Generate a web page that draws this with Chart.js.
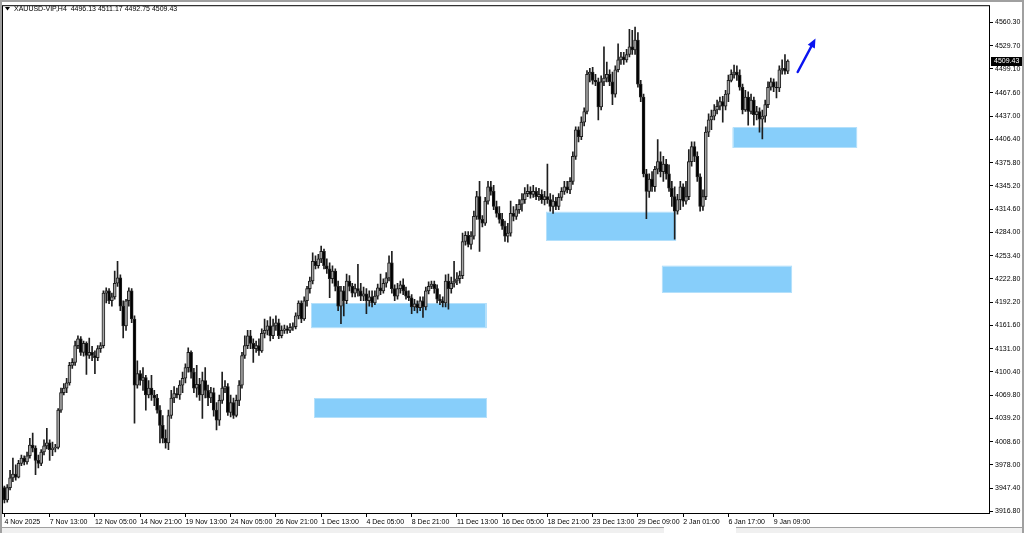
<!DOCTYPE html>
<html>
<head>
<meta charset="utf-8">
<title>XAUUSD H4</title>
<script src="https://cdn.jsdelivr.net/npm/chart.js@4.4.1/dist/chart.umd.min.js"></script>
<style>
  html, body { margin: 0; padding: 0; background: #fff; }
  #wrap { width: 1024px; height: 533px; }
</style>
</head>
<body>
<div id="wrap"><canvas id="xau" width="1024" height="533"></canvas></div>
<script>
// ================================================================ data (H4 candles)

const xTickLabels = ["4 Nov 2025", "7 Nov 13:00", "12 Nov 05:00", "14 Nov 21:00", "19 Nov 13:00",
  "24 Nov 05:00", "26 Nov 21:00", "1 Dec 13:00", "4 Dec 05:00", "8 Dec 21:00", "11 Dec 13:00",
  "16 Dec 05:00", "18 Dec 21:00", "23 Dec 13:00", "29 Dec 09:00", "2 Jan 01:00", "6 Jan 17:00", "9 Jan 09:00"];

const yTickLabels = ["4560.30", "4529.70", "4499.10", "4467.60", "4437.00", "4406.40", "4375.80",
  "4345.20", "4314.60", "4284.00", "4253.40", "4222.80", "4192.20", "4161.60", "4131.00", "4100.40",
  "4069.80", "4039.20", "4008.60", "3978.00", "3947.40", "3916.80"];

const opens = [
  3948, 3932, 3948, 3961, 3966, 3962, 3980, 3987, 3982, 3990, 4004, 4000, 3984, 3980, 3995, 4003, 4007, 3998, 4000, 4001,
  4050, 4073, 4079, 4086, 4109, 4113, 4135, 4144, 4126, 4138, 4122, 4126, 4122, 4119, 4131, 4135, 4204, 4207, 4194, 4199,
  4217, 4224, 4187, 4161, 4194, 4207, 4170, 4083, 4098, 4089, 4093, 4070, 4079, 4070, 4066, 4050, 4030, 4013, 4007, 4043,
  4066, 4072, 4070, 4083, 4092, 4106, 4126, 4100, 4079, 4084, 4070, 4089, 4076, 4066, 4073, 4050, 4037, 4063, 4079, 4081,
  4047, 4060, 4043, 4063, 4083, 4122, 4135, 4148, 4138, 4131, 4135, 4128, 4151, 4155, 4161, 4148, 4161, 4165, 4148, 4155,
  4157, 4155, 4159, 4160, 4174, 4191, 4170, 4194, 4210, 4220, 4246, 4240, 4249, 4259, 4240, 4236, 4223, 4233, 4213, 4187,
  4207, 4194, 4220, 4213, 4204, 4210, 4207, 4200, 4203, 4194, 4199, 4191, 4200, 4211, 4207, 4217, 4224, 4244, 4210, 4200,
  4210, 4215, 4207, 4200, 4198, 4186, 4190, 4185, 4194, 4186, 4207, 4213, 4216, 4210, 4196, 4194, 4191, 4220, 4210, 4217,
  4220, 4223, 4227, 4272, 4280, 4268, 4279, 4305, 4331, 4301, 4296, 4325, 4344, 4338, 4318, 4309, 4301, 4292, 4279, 4283,
  4309, 4305, 4314, 4321, 4327, 4335, 4338, 4334, 4338, 4331, 4334, 4327, 4331, 4327, 4318, 4325, 4318, 4330, 4338, 4344,
  4340, 4351, 4384, 4419, 4410, 4429, 4443, 4492, 4495, 4484, 4482, 4449, 4482, 4487, 4492, 4482, 4466, 4498, 4511, 4515,
  4511, 4518, 4528, 4524, 4537, 4479, 4462, 4361, 4338, 4354, 4344, 4367, 4377, 4364, 4374, 4361, 4342, 4331, 4312, 4327,
  4344, 4325, 4331, 4377, 4397, 4384, 4357, 4318, 4331, 4416, 4432, 4437, 4445, 4450, 4456, 4450, 4466, 4484, 4492, 4495,
  4491, 4475, 4445, 4462, 4443, 4458, 4439, 4443, 4433, 4437, 4452, 4475, 4482, 4475, 4474, 4498, 4500, 4496.13
];

const highs = [
  3950, 3952, 3971, 3987, 3978, 3984, 3991, 3990, 3995, 4013, 4020, 4003, 3991, 3998, 4011, 4026, 4011, 4008, 4005, 4052,
  4079, 4085, 4092, 4113, 4118, 4141, 4148, 4147, 4141, 4140, 4145, 4134, 4128, 4135, 4139, 4207, 4211, 4210, 4204, 4233,
  4246, 4228, 4194, 4196, 4211, 4210, 4174, 4115, 4102, 4106, 4096, 4089, 4096, 4076, 4071, 4056, 4043, 4024, 4050, 4076,
  4081, 4079, 4089, 4100, 4111, 4132, 4128, 4105, 4109, 4092, 4100, 4106, 4083, 4080, 4079, 4060, 4070, 4100, 4089, 4085,
  4070, 4066, 4070, 4089, 4126, 4148, 4155, 4155, 4144, 4141, 4144, 4157, 4170, 4168, 4173, 4170, 4174, 4170, 4161, 4162,
  4161, 4164, 4165, 4178, 4194, 4194, 4199, 4213, 4225, 4257, 4253, 4255, 4266, 4262, 4249, 4244, 4240, 4236, 4220, 4213,
  4213, 4229, 4227, 4217, 4216, 4242, 4217, 4212, 4210, 4207, 4207, 4207, 4216, 4229, 4223, 4231, 4253, 4259, 4215, 4217,
  4220, 4223, 4212, 4207, 4202, 4196, 4194, 4199, 4199, 4212, 4219, 4220, 4220, 4215, 4202, 4199, 4228, 4229, 4225, 4246,
  4231, 4233, 4283, 4285, 4285, 4285, 4312, 4338, 4351, 4306, 4330, 4351, 4351, 4346, 4325, 4318, 4309, 4299, 4296, 4325,
  4318, 4321, 4327, 4335, 4343, 4347, 4344, 4346, 4343, 4342, 4340, 4338, 4374, 4335, 4333, 4330, 4335, 4343, 4351, 4351,
  4356, 4390, 4423, 4423, 4436, 4448, 4497, 4500, 4501, 4492, 4487, 4490, 4528, 4508, 4498, 4495, 4503, 4532, 4521, 4521,
  4525, 4551, 4550, 4554, 4547, 4484, 4466, 4367, 4361, 4364, 4371, 4406, 4390, 4384, 4380, 4373, 4351, 4344, 4334, 4351,
  4348, 4351, 4393, 4403, 4403, 4390, 4361, 4340, 4423, 4440, 4445, 4452, 4458, 4462, 4463, 4471, 4491, 4498, 4504, 4503,
  4498, 4479, 4471, 4469, 4466, 4462, 4450, 4448, 4445, 4458, 4482, 4487, 4486, 4482, 4503, 4511, 4518, 4511.17
];

const lows = [
  3928, 3929, 3945, 3956, 3958, 3961, 3977, 3978, 3979, 3987, 3995, 3965, 3974, 3977, 3991, 3999, 3984, 3990, 3995, 3999,
  4047, 4070, 4073, 4083, 4105, 4109, 4131, 4122, 4121, 4097, 4118, 4115, 4098, 4115, 4126, 4132, 4191, 4190, 4187, 4196,
  4213, 4181, 4145, 4155, 4187, 4165, 4033, 4079, 4083, 4076, 4050, 4066, 4063, 4056, 4046, 4007, 4007, 4000, 3998, 4039,
  4060, 4066, 4064, 4073, 4086, 4100, 4092, 4073, 4067, 4063, 4039, 4066, 4056, 4060, 4042, 4024, 4030, 4059, 4073, 4043,
  4041, 4039, 4041, 4056, 4079, 4118, 4131, 4131, 4113, 4126, 4122, 4126, 4145, 4149, 4141, 4144, 4155, 4144, 4145, 4151,
  4151, 4152, 4155, 4157, 4170, 4165, 4168, 4187, 4204, 4216, 4236, 4237, 4244, 4236, 4230, 4198, 4217, 4207, 4181, 4164,
  4174, 4190, 4207, 4199, 4199, 4200, 4194, 4194, 4177, 4187, 4186, 4189, 4196, 4202, 4204, 4212, 4220, 4204, 4194, 4196,
  4204, 4202, 4196, 4194, 4177, 4181, 4178, 4181, 4172, 4182, 4203, 4210, 4204, 4191, 4189, 4186, 4186, 4183, 4204, 4212,
  4215, 4217, 4223, 4267, 4265, 4262, 4275, 4301, 4259, 4291, 4293, 4321, 4333, 4314, 4304, 4296, 4288, 4272, 4271, 4279,
  4299, 4301, 4309, 4312, 4322, 4331, 4329, 4330, 4327, 4326, 4322, 4320, 4322, 4312, 4309, 4314, 4314, 4326, 4334, 4336,
  4335, 4347, 4380, 4403, 4406, 4424, 4440, 4482, 4479, 4477, 4432, 4445, 4477, 4482, 4477, 4452, 4462, 4495, 4505, 4505,
  4508, 4515, 4518, 4518, 4475, 4456, 4357, 4302, 4330, 4338, 4338, 4361, 4357, 4351, 4354, 4338, 4318, 4275, 4308, 4314,
  4318, 4321, 4327, 4371, 4377, 4351, 4312, 4313, 4327, 4410, 4419, 4432, 4440, 4445, 4429, 4445, 4456, 4482, 4487, 4484,
  4471, 4440, 4443, 4425, 4440, 4425, 4432, 4416, 4407, 4429, 4448, 4471, 4469, 4461, 4469, 4492, 4492, 4492.75
];

const closes = [
  3932, 3948, 3961, 3966, 3962, 3980, 3987, 3982, 3990, 4004, 4000, 3984, 3980, 3995, 4003, 4007, 3998, 4000, 4001, 4050,
  4073, 4079, 4086, 4109, 4113, 4135, 4144, 4126, 4138, 4122, 4126, 4122, 4119, 4131, 4135, 4204, 4207, 4194, 4199, 4217,
  4224, 4187, 4161, 4194, 4207, 4170, 4083, 4098, 4089, 4093, 4070, 4079, 4070, 4066, 4050, 4030, 4013, 4007, 4043, 4066,
  4072, 4070, 4083, 4092, 4106, 4126, 4100, 4079, 4084, 4070, 4089, 4076, 4066, 4073, 4050, 4037, 4063, 4079, 4081, 4047,
  4060, 4043, 4063, 4083, 4122, 4135, 4148, 4138, 4131, 4135, 4128, 4151, 4155, 4161, 4148, 4161, 4165, 4148, 4155, 4157,
  4155, 4159, 4160, 4174, 4191, 4170, 4194, 4210, 4220, 4246, 4240, 4249, 4259, 4240, 4236, 4223, 4233, 4213, 4187, 4207,
  4194, 4220, 4213, 4204, 4210, 4207, 4200, 4203, 4194, 4199, 4191, 4200, 4211, 4207, 4217, 4224, 4244, 4210, 4200, 4210,
  4215, 4207, 4200, 4198, 4186, 4190, 4185, 4194, 4186, 4207, 4213, 4216, 4210, 4196, 4194, 4191, 4220, 4210, 4217, 4220,
  4223, 4227, 4272, 4280, 4268, 4279, 4305, 4331, 4301, 4296, 4325, 4344, 4338, 4318, 4309, 4301, 4292, 4279, 4283, 4309,
  4305, 4314, 4321, 4327, 4335, 4338, 4334, 4338, 4331, 4334, 4327, 4331, 4327, 4318, 4325, 4318, 4330, 4338, 4344, 4340,
  4351, 4384, 4419, 4410, 4429, 4443, 4492, 4495, 4484, 4482, 4449, 4482, 4487, 4492, 4482, 4466, 4498, 4511, 4515, 4511,
  4518, 4528, 4524, 4537, 4479, 4462, 4361, 4338, 4354, 4344, 4367, 4377, 4364, 4374, 4361, 4342, 4331, 4312, 4327, 4344,
  4325, 4331, 4377, 4397, 4384, 4357, 4318, 4331, 4416, 4432, 4437, 4445, 4450, 4456, 4450, 4466, 4484, 4492, 4495, 4491,
  4475, 4445, 4462, 4443, 4458, 4439, 4443, 4433, 4437, 4452, 4475, 4482, 4475, 4474, 4498, 4500, 4496, 4509.43
];

// blue zones drawn on the chart (bar index range, price range)
const zoneFromBar = [109, 110, 192, 233, 258];
const zoneToBar = [171, 171, 238, 279, 302];
const zoneTop = [4191, 4066, 4311, 4240, 4422];
const zoneBottom = [4158, 4040, 4273, 4205, 4395];

// the blue arrow (bar index, price)
const arrowBars = [280.5, 286.8];
const arrowPrices = [4495, 4539];

const slots = 349;          // bars that fit in the window (chart shift leaves room on the right)
const yMin = 3914.7;
const yMax = 4581.6;
const mtFont = "'Liberation Sans', Arial, sans-serif";

// ============================================================= plugins

// zones sit behind the candles
const zonesPlugin = {
  id: "zones",
  beforeDatasetsDraw(chart) {
    const { ctx, scales: { x, y } } = chart;
    ctx.save();
    zoneFromBar.forEach((from, i) => {
      const x1 = x.getPixelForValue(from - 0.5);
      const x2 = x.getPixelForValue(zoneToBar[i] - 0.5);
      const y1 = y.getPixelForValue(zoneTop[i]);
      const y2 = y.getPixelForValue(zoneBottom[i]);
      ctx.fillStyle = "#87cefa";
      ctx.fillRect(x1, y1, x2 - x1, y2 - y1);
      ctx.strokeStyle = "#b4e0fb";
      ctx.lineWidth = 1;
      ctx.strokeRect(Math.round(x1) + 0.5, Math.round(y1) + 0.5, Math.round(x2 - x1) - 1, Math.round(y2 - y1) - 1);
    });
    ctx.restore();
  }
};

const arrowPlugin = {
  id: "arrow",
  afterDatasetsDraw(chart) {
    const { ctx, scales: { x, y } } = chart;
    const x1 = x.getPixelForValue(arrowBars[0]), y1 = y.getPixelForValue(arrowPrices[0]);
    const x2 = x.getPixelForValue(arrowBars[1]), y2 = y.getPixelForValue(arrowPrices[1]);
    const ang = Math.atan2(y2 - y1, x2 - x1);
    const headLen = 9, headW = 4;
    const bx = x2 - headLen * Math.cos(ang), by = y2 - headLen * Math.sin(ang);
    ctx.save();
    ctx.strokeStyle = "#0a14f0";
    ctx.fillStyle = "#0a14f0";
    ctx.lineWidth = 2.5;
    ctx.lineCap = "round";
    ctx.beginPath();
    ctx.moveTo(x1, y1);
    ctx.lineTo(bx, by);
    ctx.stroke();
    ctx.beginPath();
    ctx.moveTo(x2, y2);
    ctx.lineTo(bx + headW * Math.sin(ang), by - headW * Math.cos(ang));
    ctx.lineTo(bx - headW * Math.sin(ang), by + headW * Math.cos(ang));
    ctx.closePath();
    ctx.fill();
    ctx.restore();
  }
};

// frame, title line, current price box, terminal chrome
const terminalPlugin = {
  id: "terminal",
  afterDraw(chart) {
    const { ctx, chartArea: a, scales: { y } } = chart;
    ctx.save();
    ctx.strokeStyle = "#000";
    ctx.lineWidth = 1;
    ctx.strokeRect(a.left - 0.5, a.top - 0.5, a.right - a.left, a.bottom - a.top + 1);

    // title
    ctx.fillStyle = "#000";
    ctx.beginPath();
    ctx.moveTo(5, 7); ctx.lineTo(10, 7); ctx.lineTo(7.5, 10.5); ctx.closePath();
    ctx.fill();
    ctx.font = "7px " + mtFont;
    ctx.textBaseline = "middle";
    ctx.textAlign = "left";
    ctx.fillText("XAUUSD-VIP,H4  " + opens[opens.length - 1].toFixed(2) + " " +
      highs[highs.length - 1].toFixed(2) + " " + lows[lows.length - 1].toFixed(2) + " " +
      closes[closes.length - 1].toFixed(2), 14, 9.5);

    // last price box
    const last = closes[closes.length - 1];
    const py = Math.round(y.getPixelForValue(last));
    ctx.fillStyle = "#000";
    ctx.fillRect(a.right + 1, py - 4, 31, 9);
    ctx.fillStyle = "#fff";
    ctx.fillText(last.toFixed(2), a.right + 4, py + 0.5);

    // window chrome
    ctx.fillStyle = "#a0a0a0";
    ctx.fillRect(0, 0, 1024, 2);
    ctx.fillRect(0, 0, 2, 533);
    ctx.fillRect(1022, 0, 2, 533);
    ctx.fillStyle = "#f0f0f0";
    ctx.fillRect(2, 527, 1020, 6);
    ctx.fillStyle = "#a0a0a0";
    ctx.fillRect(0, 527, 1024, 1);
    ctx.fillStyle = "#fff";
    ctx.fillRect(664, 527, 72, 6);
    ctx.restore();
  }
};

// ============================================================= chart

const wickData = lows.map((l, i) => ({ x: i, y: [l, highs[i]] }));
const bodyData = opens.map((o, i) => ({ x: i, y: [o, closes[i]] }));

new Chart(document.getElementById("xau"), {
  type: "bar",
  data: {
    datasets: [{
      label: "wick",
      data: wickData,
      backgroundColor: "#1e1e1e",
      barThickness: 1,
      grouped: false,
      order: 2
    }, {
      label: "body",
      data: bodyData,
      // bull candles are white with a black edge in MT4; at this size they read as grey
      backgroundColor: ctx => closes[ctx.dataIndex] >= opens[ctx.dataIndex] ? "#a6a6a6" : "#000",
      borderColor: "#1e1e1e",
      borderWidth: 1,
      borderSkipped: false,
      barThickness: 3,
      grouped: false,
      order: 1
    }]
  },
  options: {
    responsive: false,
    animation: false,
    layout: { padding: { left: 3, top: 3, right: 0, bottom: 0 } },
    plugins: { legend: { display: false }, tooltip: { enabled: false } },
    scales: {
      x: {
        type: "linear",
        offset: false,
        min: -0.5,
        max: slots - 0.5,
        afterBuildTicks: s => { s.ticks = xTickLabels.map((t, i) => ({ value: i * 16 })); },
        afterFit: s => { s.height = 20; },
        grid: { offset: false, drawOnChartArea: false, drawTicks: true, tickLength: 4, color: "#000" },
        border: { display: false },
        ticks: {
          autoSkip: false, maxRotation: 0, align: "start", padding: 1,
          color: "#000", font: { family: mtFont, size: 7 },
          callback: (v, i) => xTickLabels[i]
        }
      },
      y: {
        position: "right",
        min: yMin,
        max: yMax,
        afterBuildTicks: s => { s.ticks = yTickLabels.map(t => ({ value: parseFloat(t) })); },
        afterFit: s => { s.width = 34; },
        grid: { drawOnChartArea: false, drawTicks: true, tickLength: 3, color: "#000" },
        border: { display: false },
        ticks: {
          padding: 2, color: "#000", font: { family: mtFont, size: 7 },
          callback: (v, i) => yTickLabels[i]
        }
      }
    }
  },
  plugins: [zonesPlugin, arrowPlugin, terminalPlugin]
});
</script>
</body>
</html>
